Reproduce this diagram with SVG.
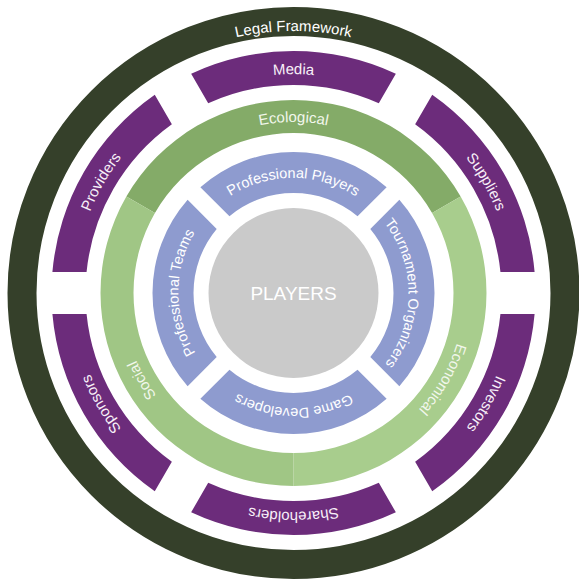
<svg xmlns="http://www.w3.org/2000/svg" xmlns:xlink="http://www.w3.org/1999/xlink" width="579" height="581" viewBox="0 0 579 581">
<style>
.lbl{font-family:"Liberation Sans",Arial,sans-serif;font-size:15px;fill:#ffffff;text-anchor:middle}
.plbl{fill:#f8f0f8}
.glbl{fill:#f2f7ec}
.blbl{font-size:14.5px}
.purple{fill:#6c2c7b}
.blue{fill:#8e9bcf}
</style>
<defs>
<path id="pLegal" d="M 0,262 A 262 262 0 0 1 0,-262 A 262 262 0 0 1 0,262"/>
<path id="pPurple" d="M 219,0 A 219 219 0 0 1 -219,0 A 219 219 0 0 1 219,0"/>
<path id="pGreen" d="M 171,0 A 171 171 0 0 1 -171,0 A 171 171 0 0 1 171,0"/>
<path id="pBlue" d="M 82.02,82.02 A 116 116 0 0 1 -82.02,-82.02 A 116 116 0 0 1 82.02,82.02"/>
<path id="segPurple" d="M -102.35,-219.3 A 242 242 0 0 1 102.35,-219.3 L 85.3,-189.7 A 208 208 0 0 0 -85.3,-189.7 Z"/>
<path id="segGreen" d="M -167.14,-96.5 A 193 193 0 0 1 167.14,-96.5 L 138.56,-80 A 160 160 0 0 0 -138.56,-80 Z"/>
<path id="segBlue" d="M -93.13,-105.87 A 141 141 0 0 1 93.13,-105.87 L 64.05,-76.79 A 100 100 0 0 0 -64.05,-76.79 Z"/>
</defs>
<rect width="579" height="581" fill="#ffffff"/>
<g transform="translate(293.5,293)">
  <g id="legal-framework">
    <circle r="271.5" fill="none" stroke="#35402a" stroke-width="29"/>
    <text class="lbl"><textPath href="#pLegal" xlink:href="#pLegal" startOffset="50%">Legal Framework</textPath></text>
  </g>
  <g id="media">
    <use href="#segPurple" xlink:href="#segPurple" class="purple"/>
    <text class="lbl plbl"><textPath href="#pPurple" xlink:href="#pPurple" startOffset="75%">Media</textPath></text>
  </g>
  <g id="suppliers">
    <use href="#segPurple" xlink:href="#segPurple" class="purple" transform="rotate(60)"/>
    <text class="lbl plbl"><textPath href="#pPurple" xlink:href="#pPurple" startOffset="91.667%">Suppliers</textPath></text>
  </g>
  <g id="investors">
    <use href="#segPurple" xlink:href="#segPurple" class="purple" transform="rotate(120)"/>
    <text class="lbl plbl"><textPath href="#pPurple" xlink:href="#pPurple" startOffset="8.333%">Investors</textPath></text>
  </g>
  <g id="shareholders">
    <use href="#segPurple" xlink:href="#segPurple" class="purple" transform="rotate(180)"/>
    <text class="lbl plbl"><textPath href="#pPurple" xlink:href="#pPurple" startOffset="25%">Shareholders</textPath></text>
  </g>
  <g id="sponsors">
    <use href="#segPurple" xlink:href="#segPurple" class="purple" transform="rotate(240)"/>
    <text class="lbl plbl"><textPath href="#pPurple" xlink:href="#pPurple" startOffset="41.667%">Sponsors</textPath></text>
  </g>
  <g id="providers">
    <use href="#segPurple" xlink:href="#segPurple" class="purple" transform="rotate(300)"/>
    <text class="lbl plbl"><textPath href="#pPurple" xlink:href="#pPurple" startOffset="58.333%">Providers</textPath></text>
  </g>
  <g id="ecological">
    <use href="#segGreen" xlink:href="#segGreen" fill="#84ab68"/>
    <text class="lbl glbl"><textPath href="#pGreen" xlink:href="#pGreen" startOffset="75%">Ecological</textPath></text>
  </g>
  <g id="economical">
    <use href="#segGreen" xlink:href="#segGreen" fill="#a8cd8d" transform="rotate(120)"/>
    <text class="lbl glbl"><textPath href="#pGreen" xlink:href="#pGreen" startOffset="8.333%">Economical</textPath></text>
  </g>
  <g id="social">
    <use href="#segGreen" xlink:href="#segGreen" fill="#a0c685" transform="rotate(240)"/>
    <text class="lbl glbl"><textPath href="#pGreen" xlink:href="#pGreen" startOffset="41.667%">Social</textPath></text>
  </g>
  <g id="professional-players">
    <use href="#segBlue" xlink:href="#segBlue" class="blue"/>
    <text class="lbl blbl"><textPath href="#pBlue" xlink:href="#pBlue" startOffset="62.5%">Professional Players</textPath></text>
  </g>
  <g id="tournament-organizers">
    <use href="#segBlue" xlink:href="#segBlue" class="blue" transform="rotate(90)"/>
    <text class="lbl blbl"><textPath href="#pBlue" xlink:href="#pBlue" startOffset="87.5%">Tournament Organizers</textPath></text>
  </g>
  <g id="game-developers">
    <use href="#segBlue" xlink:href="#segBlue" class="blue" transform="rotate(180)"/>
    <text class="lbl blbl"><textPath href="#pBlue" xlink:href="#pBlue" startOffset="12.5%">Game Developers</textPath></text>
  </g>
  <g id="professional-teams">
    <use href="#segBlue" xlink:href="#segBlue" class="blue" transform="rotate(270)"/>
    <text class="lbl blbl"><textPath href="#pBlue" xlink:href="#pBlue" startOffset="37.5%">Professional Teams</textPath></text>
  </g>
  <g id="players">
    <circle r="85" fill="#cacaca"/>
    <text x="0" y="7" style="font-family:'Liberation Sans',Arial,sans-serif;font-size:19px;fill:#ffffff;text-anchor:middle">PLAYERS</text>
  </g>
  <g id="connectors"/>
</g>
</svg>
